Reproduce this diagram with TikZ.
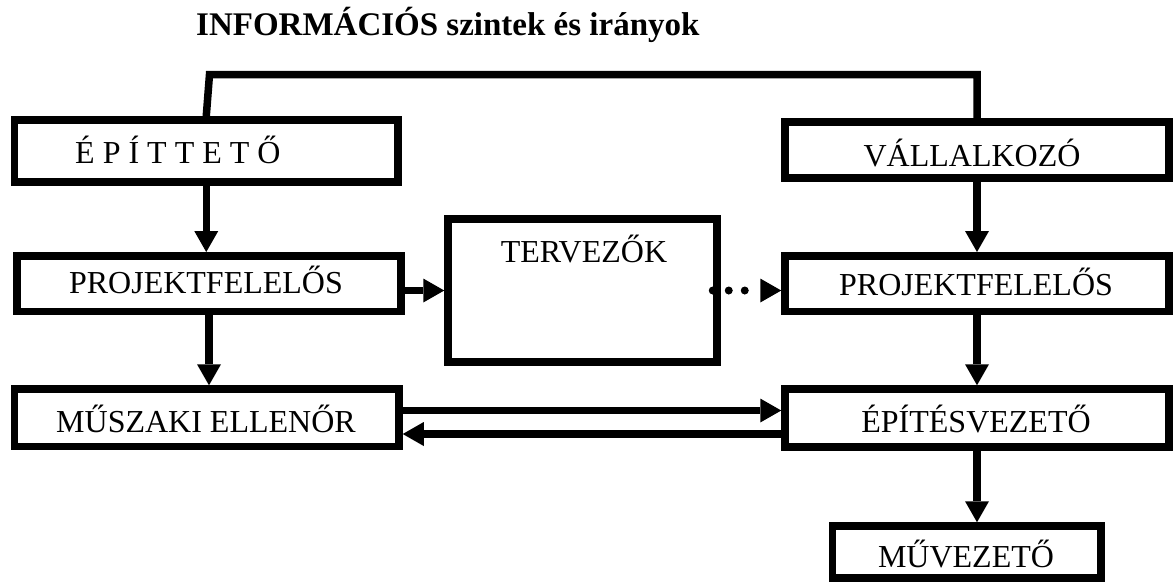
\documentclass[tikz,border=0pt]{standalone}
\usepackage{fontspec}
\setmainfont{Liberation Serif}
\usetikzlibrary{arrows.meta}
\begin{document}
\begin{tikzpicture}[x=1pt,y=-1pt,
  box/.style={draw, line width=7.5pt, inner sep=0pt, rectangle},
  lbl/.style={inner sep=0pt, anchor=base, font=\fontsize{32}{38}\selectfont},
  conn/.style={line width=7.5pt},
  arr/.style={line width=7.5pt, -{Triangle[length=21pt,width=24pt,line width=0pt]}},
  dotarr/.style={line width=8pt, line cap=round, dash pattern=on 0pt off 16pt,
    -{Triangle[length=21pt,width=24pt,line width=0pt]}}]
\useasboundingbox (0,0) rectangle (1174,582);
% title
\node[inner sep=0pt, anchor=base west, font=\fontsize{33}{40}\selectfont\bfseries] (title) at (196,35) {INFORMÁCIÓS szintek és irányok};
% boxes
\node[box, minimum width=383.5pt, minimum height=62pt] (A) at (206.25,151) {};
\node[box, minimum width=384pt, minimum height=56pt] (B) at (977,150) {};
\node[box, minimum width=384pt, minimum height=55.5pt] (C) at (209,283.5) {};
\node[box, minimum width=269pt, minimum height=143pt] (D) at (582.5,290.5) {};
\node[box, minimum width=384pt, minimum height=55.5pt] (E) at (977,283.5) {};
\node[box, minimum width=384.5pt, minimum height=57.5pt] (F) at (206.75,417.75) {};
\node[box, minimum width=384pt, minimum height=58pt] (G) at (977,418) {};
\node[box, minimum width=268.5pt, minimum height=52pt] (H) at (966.75,552) {};
% labels
\node[lbl, anchor=base west, font=\fontsize{32}{38}\selectfont\addfontfeature{LetterSpace=25}] (tA) at (75,163) {ÉPÍTTETŐ};
\node[lbl] (tB) at (972,166) {VÁLLALKOZÓ};
\node[lbl] (tC) at (206,293) {PROJEKTFELELŐS};
\node[lbl] (tD) at (584,262) {TERVEZŐK};
\node[lbl] (tE) at (976,295) {PROJEKTFELELŐS};
\node[lbl] (tF) at (206,432) {MŰSZAKI ELLENŐR};
\node[lbl] (tG) at (976,432) {ÉPÍTÉSVEZETŐ};
\node[lbl] (tH) at (966,567) {MŰVEZETŐ};
% top connector
\coordinate (tl) at (209.5,74.5);
\draw[conn] (A.north) -- (tl) -| (B.north);
% arrows
\draw[arr] (A.south) -- (A.south |- C.north);
\draw[arr] (B.south) -- (B.south |- E.north);
\draw[arr] (C.south) -- (C.south |- F.north);
\draw[arr] (E.south) -- (E.south |- G.north);
\draw[arr] (G.south) -- (G.south |- H.north);
\draw[arr] (C.east |- D.west) -- (D.west);
\coordinate (ds) at ([xshift=-8pt]D.east);
\draw[dotarr] (ds) -- (ds -| E.west);
\coordinate (u1) at (F.east |- 0,410.5);
\coordinate (l1) at (G.west |- 0,434);
\draw[arr] (u1) -- (u1 -| G.west);
\draw[arr] (l1) -- (l1 -| F.east);
\end{tikzpicture}
\end{document}
